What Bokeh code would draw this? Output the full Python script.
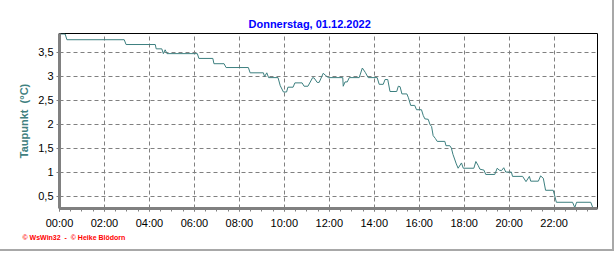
from bokeh.plotting import figure
from bokeh.models import FixedTicker, Range1d, Title
from bokeh.embed import file_html
from bokeh.resources import INLINE

# --- data (time in hours, dew point in °C) ---
hours = [0.00, 0.25, 0.33, 2.88, 2.96, 4.26, 4.30, 4.55, 4.62, 4.70, 4.78, 6.13, 6.20, 6.82,
         6.87, 7.32, 7.41, 8.40, 8.48, 9.07, 9.12, 9.22, 9.30, 9.72, 9.82, 9.96, 10.10, 10.16,
         10.39, 10.47, 10.79, 10.88, 11.05, 11.26, 11.33, 11.46, 11.55, 11.73, 11.85, 11.96,
         12.60, 12.62, 12.70, 12.80, 12.89, 13.33, 13.47, 13.60, 13.73, 14.13, 14.22, 14.40,
         14.48, 14.60, 14.70, 15.00, 15.07, 15.15, 15.23, 15.45, 15.52, 15.62, 15.80, 15.88,
         16.10, 16.18, 16.25, 16.40, 16.48, 16.55, 16.62, 16.72, 16.80, 17.14, 17.19, 17.36,
         17.43, 17.50, 17.65, 17.73, 17.88, 17.96, 18.43, 18.52, 18.62, 18.70, 18.88, 18.96,
         19.36, 19.47, 19.56, 19.66, 19.76, 19.85, 20.10, 20.15, 20.60, 20.75, 20.90, 20.96,
         21.30, 21.40, 21.52, 21.62, 21.96, 22.03, 22.10, 22.82, 22.92, 23.00, 23.63, 23.72,
         23.87]
dewpoint = [3.88, 3.88, 3.76, 3.76, 3.66, 3.66, 3.57, 3.57, 3.47, 3.55, 3.47, 3.47, 3.37, 3.37,
            3.26, 3.26, 3.18, 3.18, 3.07, 3.07, 2.99, 3.07, 2.97, 2.97, 2.80, 2.67, 2.67, 2.77,
            2.77, 2.86, 2.86, 2.79, 2.79, 2.97, 2.96, 2.87, 2.87, 3.06, 3.01, 2.97,
            2.97, 2.79, 2.88, 2.88, 2.97, 2.97, 3.17, 3.08, 2.97, 2.97, 2.83, 2.83,
            2.93, 2.93, 2.68, 2.68, 2.79, 2.78, 2.63, 2.63, 2.55, 2.39, 2.39, 2.30,
            2.30, 2.18, 2.11, 2.10, 1.99, 1.95, 1.76, 1.70, 1.64, 1.64, 1.55, 1.55,
            1.50, 1.37, 1.17, 1.08, 1.19, 1.08, 1.08, 1.22, 1.14, 1.06, 1.04, 0.95,
            0.95, 1.08, 1.04, 1.03, 1.09, 1.00, 1.00, 0.91, 0.91, 0.80, 0.91, 0.81,
            0.81, 0.92, 0.87, 0.62, 0.62, 0.50, 0.37, 0.37, 0.26, 0.37, 0.37, 0.26,
            0.26]

x_ticks = [0, 2, 4, 6, 8, 10, 12, 14, 16, 18, 20, 22]
x_labels = ["00:00", "02:00", "04:00", "06:00", "08:00", "10:00", "12:00",
            "14:00", "16:00", "18:00", "20:00", "22:00"]
y_ticks = [0.5, 1.0, 1.5, 2.0, 2.5, 3.0, 3.5]
y_labels = ["0,5", "1", "1,5", "2", "2,5", "3", "3,5"]

title_text = "Donnerstag, 01.12.2022"
y_title = "Taupunkt\u00a0\u00a0(°C)"
footer_text = "© WsWin32\u00a0 - \u00a0© Heike Blödorn"

FONT = "Liberation Sans"

p = figure(width=614, height=251, output_backend="svg", toolbar_location=None,
           x_range=Range1d(0, 23.93), y_range=Range1d(0.24, 3.89),
           min_border_left=59, min_border_right=17, min_border_top=33, min_border_bottom=43,
           background_fill_color="white", border_fill_color="white")
p.styles = {"border-right": "2px solid #a8a8a8", "border-bottom": "2px solid #a8a8a8"}

p.title.text = title_text
p.title.align = "left"
p.title.offset = 189
p.title.standoff = 8
p.title.text_font = FONT
p.title.text_font_style = "bold"
p.title.text_font_size = "11px"
p.title.text_color = "#0000ff"

p.line(hours, dewpoint, line_color="#3c7f7f", line_width=1)

p.outline_line_color = "black"
p.outline_line_width = 1

x_minor = [h / 2 for h in range(48)]
p.xaxis.ticker = FixedTicker(ticks=x_ticks, minor_ticks=x_minor)
p.xaxis.major_label_overrides = {t: l for t, l in zip(x_ticks, x_labels)}
p.yaxis.ticker = FixedTicker(ticks=y_ticks)
p.yaxis.major_label_overrides = {t: l for t, l in zip(y_ticks, y_labels)}

for ax in (p.xaxis[0], p.yaxis[0]):
    ax.axis_line_color = "#808080"
    ax.axis_line_width = 3
    ax.major_tick_line_color = "#808080"
    ax.minor_tick_line_color = "#808080"
    ax.major_tick_in = 0
    ax.minor_tick_in = 0
    ax.major_tick_out = 3
    ax.minor_tick_out = 3
    ax.major_label_text_font = FONT
    ax.major_label_text_font_size = "11px"
    ax.major_label_text_color = "black"
p.xaxis.major_label_standoff = 5
p.yaxis.major_label_standoff = 3
p.yaxis.minor_tick_line_color = None

p.yaxis.axis_label = y_title
p.yaxis.axis_label_text_font = FONT
p.yaxis.axis_label_text_font_style = "bold"
p.yaxis.axis_label_text_font_size = "11px"
p.yaxis.axis_label_text_color = "#408080"
p.yaxis.axis_label_standoff = 5

footer = Title(text=footer_text, align="left", offset=-37, standoff=0,
               text_font=FONT, text_font_style="bold", text_font_size="7px",
               text_color="#ff0000")
p.add_layout(footer, "below")

for g in (p.xgrid[0], p.ygrid[0]):
    g.grid_line_color = "#808080"
    g.grid_line_dash = "4 3"
    g.grid_line_width = 1

open("out.html", "w").write(file_html(p, INLINE))
